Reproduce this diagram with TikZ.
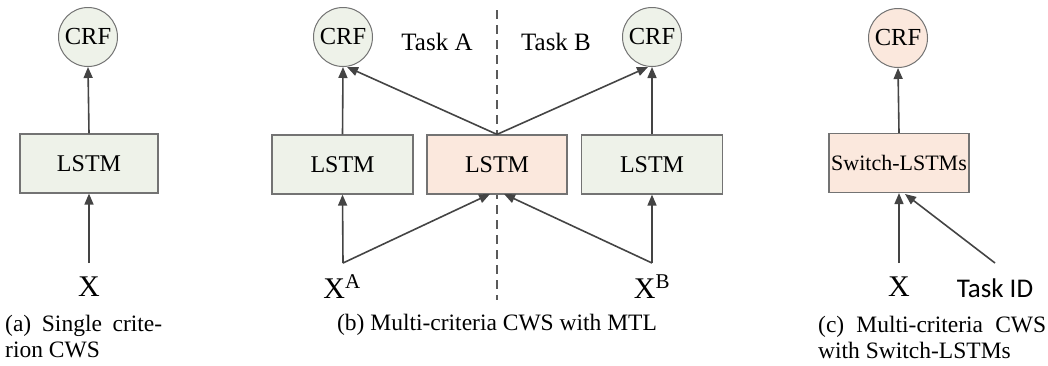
\documentclass[tikz,border=0pt]{standalone}
\usepackage{fontspec}
\setmainfont{Liberation Serif}
\newfontfamily\sansid{Carlito}
\usetikzlibrary{arrows.meta}
\definecolor{greenfill}{RGB}{238,242,233}
\definecolor{pinkfill}{RGB}{251,232,221}
\definecolor{boxline}{RGB}{115,115,115}
\definecolor{arrline}{RGB}{68,68,68}
\definecolor{dashline}{RGB}{90,90,90}
\begin{document}
\begin{tikzpicture}[x=1pt,y=-1pt,
  crfnode/.style={circle,draw=boxline,line width=1pt,minimum size=59pt,inner sep=0pt,font=\fontsize{24.5}{28}\selectfont},
  lstmbox/.style={draw=boxline,line width=1.2pt,minimum width=140pt,minimum height=59pt,inner sep=0pt,font=\fontsize{24}{28}\selectfont},
  arr/.style={draw=arrline,line width=1.6pt,-{Triangle[length=11pt,width=9pt]}},
  inlabel/.style={anchor=base,inner sep=0pt,font=\fontsize{30}{34}\selectfont},
  tasklabel/.style={anchor=base,inner sep=0pt,font=\fontsize{25}{28}\selectfont},
  caption/.style={inner sep=0pt,align=left,font=\fontsize{23.5}{26}\selectfont}]
\useasboundingbox (0,0) rectangle (1048,365);

% ---------- panel (a)
\node[crfnode,fill=greenfill] (crfa) at (88,37) {CRF};
\node[lstmbox,fill=greenfill,minimum width=138pt] (lstma) at (89,163.5) {LSTM};
\node[inlabel] (xa) at (89,296) {X};
\coordinate (xatop) at (89,263);
\draw[arr] (xatop) -- (lstma.south);
\draw[arr] (lstma.north) -- (crfa.south);
\node[caption,anchor=base west] (capa) at (5,357) {\makebox[157pt][s]{(a) Single crite-}\\rion CWS};

% ---------- panel (b)
\draw[dashline,line width=1.4pt,dash pattern=on 9pt off 6pt] (497,10) coordinate (dtop) -- (497,300) coordinate (dbot);
\node[crfnode,fill=greenfill] (crfA) at (343,37) {CRF};
\node[crfnode,fill=greenfill] (crfB) at (652,37) {CRF};
\node[tasklabel] (taskA) at (437,50) {Task A};
\node[tasklabel] (taskB) at (556,50) {Task B};
\node[lstmbox,fill=greenfill,minimum width=141pt] (lstmA) at (342.5,164.5) {LSTM};
\node[lstmbox,fill=pinkfill] (lstmM) at (497,164.5) {LSTM};
\node[lstmbox,fill=greenfill,minimum width=141pt] (lstmB) at (652,164.5) {LSTM};
\node[inlabel] (XA) at (342,298) {X\textsuperscript{A}};
\node[inlabel] (XB) at (652,298) {X\textsuperscript{B}};
\coordinate (XAtop) at (343,263);
\coordinate (XBtop) at (652,263);
\coordinate (mbotL) at (490,194);
\coordinate (mbotR) at (504,194);
\coordinate (crfAin) at (347,67);
\coordinate (crfBin) at (648,67);
\draw[arr] (XAtop) -- (lstmA.south);
\draw[arr] (XAtop) -- (mbotL);
\draw[arr] (XBtop) -- (lstmB.south);
\draw[arr] (XBtop) -- (mbotR);
\draw[arr] (lstmA.north) -- (crfA.south);
\draw[arr] (lstmB.north) -- (crfB.south);
\draw[arr] (lstmM.north) -- (crfAin);
\draw[arr] (lstmM.north) -- (crfBin);
\node[caption,anchor=base] (capb) at (497,330) {(b) Multi-criteria CWS with MTL};

% ---------- panel (c)
\node[crfnode,fill=pinkfill] (crfc) at (898,38) {CRF};
\node[lstmbox,fill=pinkfill,font=\fontsize{22}{26}\selectfont] (sw) at (899,163) {Switch-LSTMs};
\node[inlabel] (xc) at (899,296) {X};
\node[anchor=base,inner sep=0pt,font=\sansid\fontsize{27}{30}\selectfont] (tid) at (995,297) {Task ID};
\coordinate (xctop) at (899,263);
\coordinate (tidtop) at (995,263);
\coordinate (swin) at (905,194);
\draw[arr] (xctop) -- (sw.south);
\draw[arr] (tidtop) -- (swin);
\draw[arr] (sw.north) -- (crfc.south);
\node[caption,anchor=base west] (capc) at (818,358) {\makebox[228pt][s]{(c) Multi-criteria CWS}\\with Switch-LSTMs};
\end{tikzpicture}
\end{document}
